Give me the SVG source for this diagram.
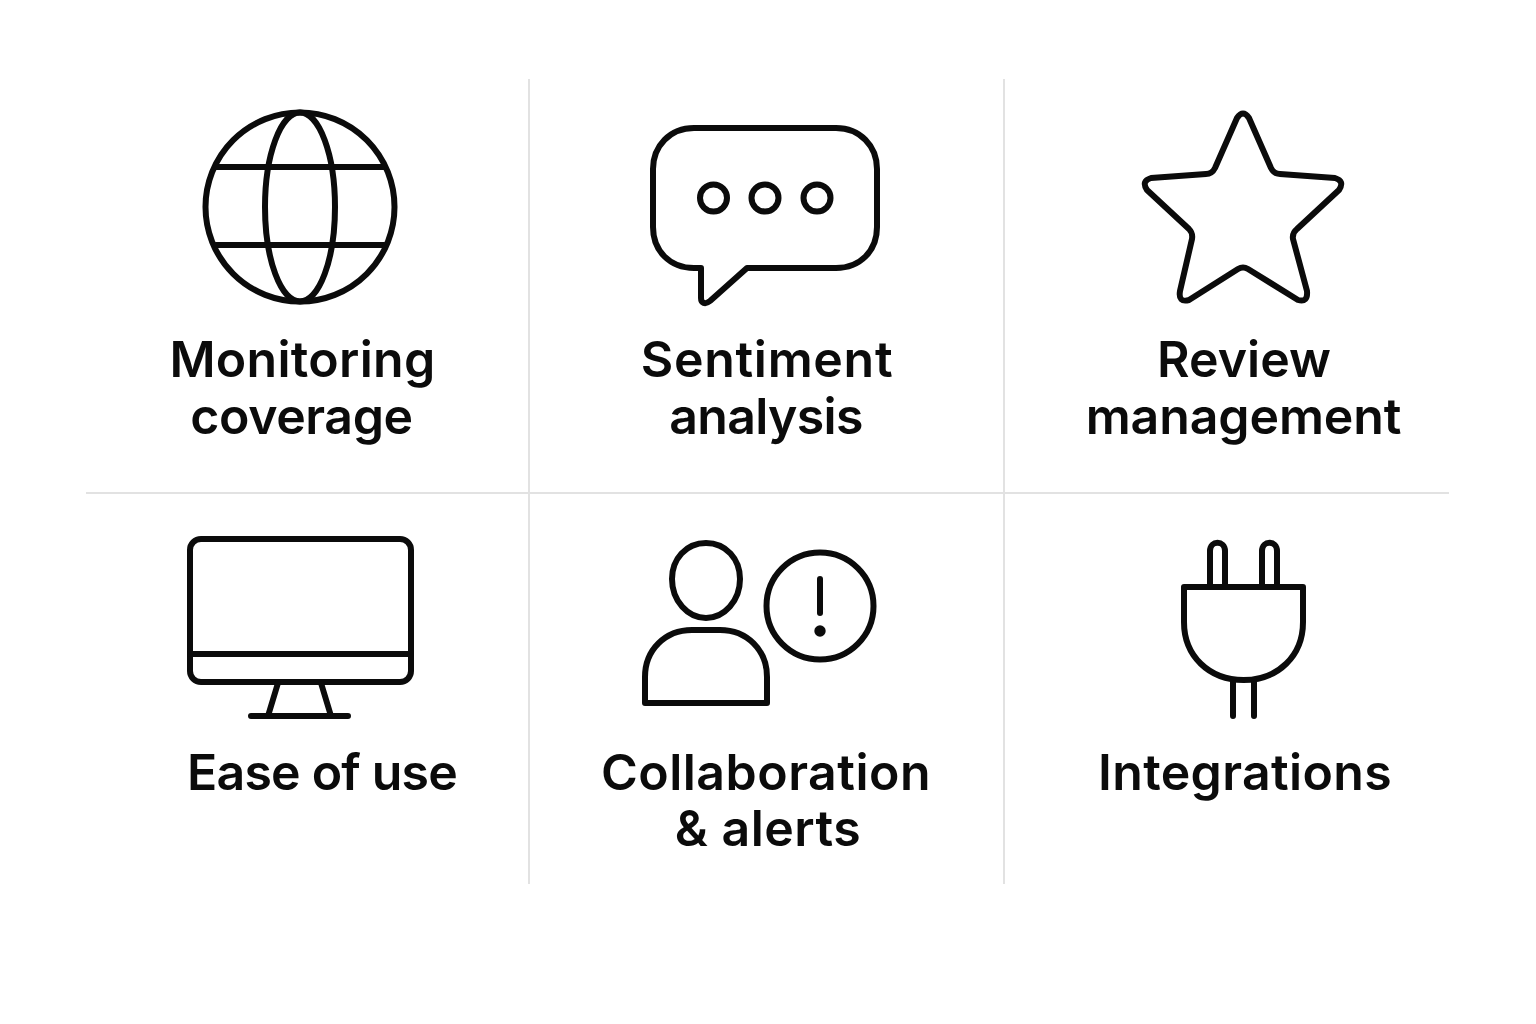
<svg xmlns="http://www.w3.org/2000/svg" width="1536" height="1024" viewBox="0 0 1536 1024">
<style>
.i{fill:none;stroke:#0b0b0b;stroke-width:6;stroke-linecap:round;stroke-linejoin:round}
.g{stroke:#e2e2e2;stroke-width:2;fill:none}
.t{font-family:"Inter","Liberation Sans",sans-serif;font-size:50px;font-weight:600;fill:#0b0b0b;text-anchor:middle}
</style>
<rect width="1536" height="1024" fill="#fff"/>
<g id="connectors">
<path class="g" d="M529 79V884M1004 79V884M86 493H1449"/>
</g>
<g id="monitoring">
<circle class="i" cx="300" cy="207" r="94.500"/>
<ellipse class="i" cx="300" cy="207" rx="35" ry="94.500"/>
<path class="i" d="M216 167H384M216 245H384"/>
<text class="t" x="302.500" y="377" letter-spacing="0.300">Monitoring</text><text class="t" x="301.500" y="434" letter-spacing="-0.400">coverage</text>
</g>
<g id="sentiment">
<path class="i" d="M694 128H836C860 128 877 146 877 169V227C877 251 860 268 836 268H747L710 301C705 305 701 303 701 298V268H694C670 268 653 251 653 227V169C653 146 670 128 694 128Z"/>
<circle class="i" cx="713.500" cy="198" r="13.500"/><circle class="i" cx="765" cy="198" r="13.500"/><circle class="i" cx="817" cy="198" r="13.500"/>
<text class="t" x="767" y="377" letter-spacing="0.700">Sentiment</text><text class="t" x="766" y="434" letter-spacing="-0.700">analysis</text>
</g>
<g id="review">
<path class="i" d="M1237 118Q1243 109 1249 118L1271 168Q1274 174 1280 174L1335 178Q1345 181 1339 190L1297 229Q1292 233 1293 239L1307 291Q1308 303 1298 300L1248 269Q1243 266 1238 269L1189 300Q1178 303 1180 291L1192 239Q1193 233 1189 229L1147 190Q1141 181 1151 178L1206 174Q1212 174 1215 168Z"/>
<text class="t" x="1244" y="377">Review</text><text class="t" x="1243.500" y="434" letter-spacing="-0.100">management</text>
</g>
<g id="ease">
<rect class="i" x="190" y="539" width="221" height="143" rx="11"/>
<path class="i" d="M190 654H411M278 683L268 716M321 683L331 716M251 716H348"/>
<text class="t" x="322" y="790" letter-spacing="-0.800">Ease of use</text>
</g>
<g id="collaboration">
<path class="i" d="M706 543C726 543 740 559 740 579C740 601 724 618 706 618C688 618 672 601 672 579C672 559 686 543 706 543Z"/>
<path class="i" d="M645 703V677C645 650 665 630 692 630H720C747 630 767 650 767 677V703Z"/>
<circle class="i" cx="820" cy="606" r="53.500"/>
<path class="i" d="M820 579V613"/>
<circle cx="820" cy="631" r="5.700" fill="#0b0b0b"/>
<text class="t" x="766" y="790" letter-spacing="0.500">Collaboration</text><text class="t" x="768" y="846" letter-spacing="0.500">&amp; alerts</text>
</g>
<g id="integrations">
<path class="i" d="M1210 587V551C1210 540 1225 540 1225 551V587M1262 587V551C1262 540 1277 540 1277 551V587"/>
<path class="i" d="M1184 587H1303V622C1303 656 1278 680 1243.500 680C1209 680 1184 656 1184 622Z"/>
<path class="i" d="M1233 681V716M1254 681V716"/>
<text class="t" x="1245" y="790" letter-spacing="0.350">Integrations</text>
</g>
</svg>
